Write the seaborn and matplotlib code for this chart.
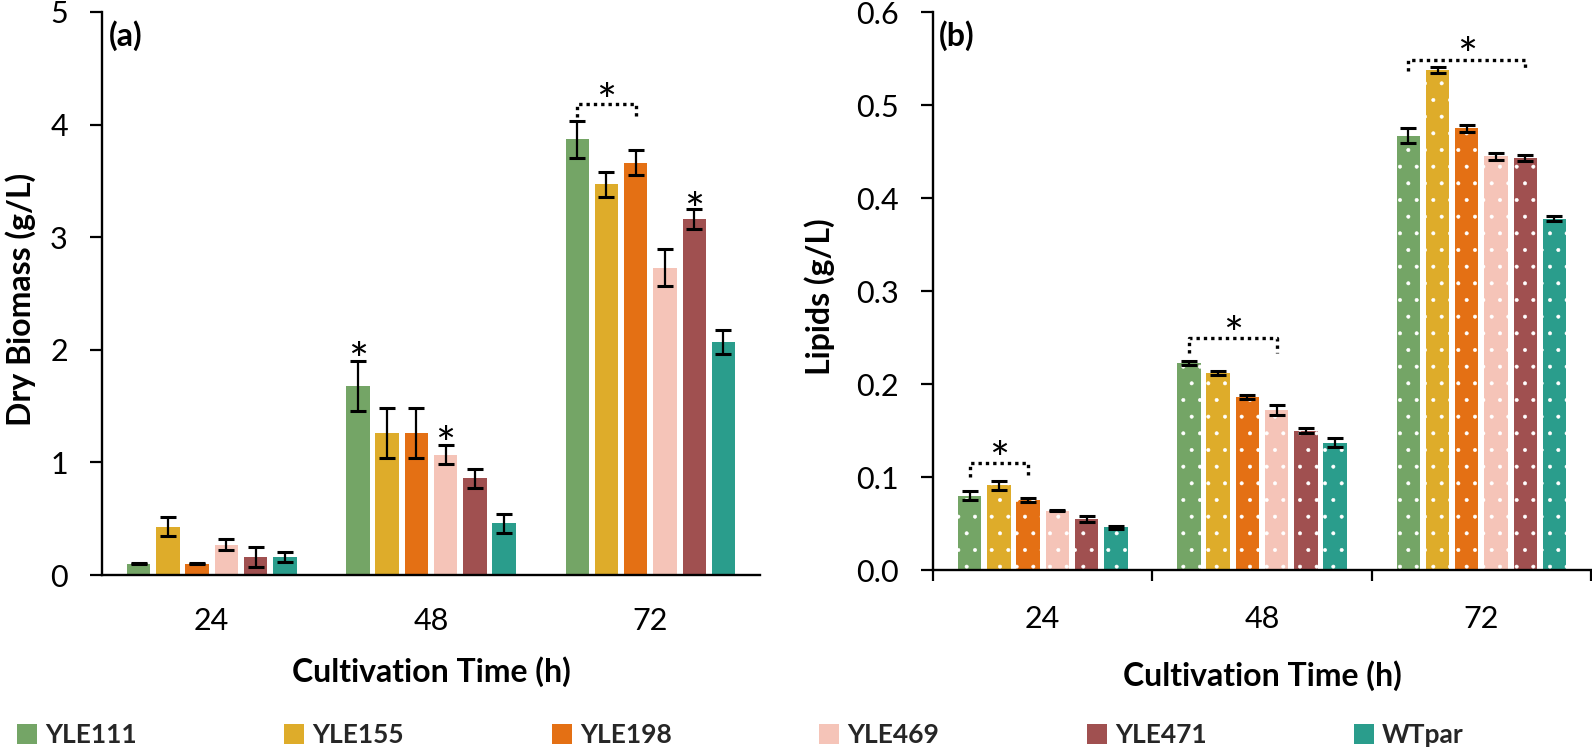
import numpy as np
import pandas as pd
import matplotlib
matplotlib.use("Agg")
import matplotlib.pyplot as plt
import seaborn as sns
from matplotlib.textpath import TextPath
from matplotlib.font_manager import FontProperties

# ---------------- data ----------------
strains = ["YLE111", "YLE155", "YLE198", "YLE469", "YLE471", "WTpar"]
times = ["24", "48", "72"]
colors = ["#74A566", "#DEAC2A", "#E47014", "#F5C4B8", "#A05050", "#2A9D8C"]

biomass_24 = [0.10, 0.43, 0.10, 0.27, 0.16, 0.16]
biomass_48 = [1.68, 1.26, 1.26, 1.07, 0.86, 0.46]
biomass_72 = [3.87, 3.47, 3.66, 2.73, 3.16, 2.07]
biomass_err_24 = [0.005, 0.085, 0.005, 0.05, 0.085, 0.045]
biomass_err_48 = [0.22, 0.22, 0.22, 0.085, 0.085, 0.085]
biomass_err_72 = [0.165, 0.11, 0.11, 0.165, 0.087, 0.107]

lipids_24 = [0.080, 0.091, 0.075, 0.064, 0.055, 0.046]
lipids_48 = [0.223, 0.212, 0.186, 0.172, 0.150, 0.137]
lipids_72 = [0.467, 0.538, 0.475, 0.445, 0.443, 0.378]
lipids_err_24 = [0.005, 0.0045, 0.002, 0.001, 0.003, 0.0015]
lipids_err_48 = [0.002, 0.002, 0.002, 0.005, 0.0025, 0.0047]
lipids_err_72 = [0.008, 0.003, 0.004, 0.004, 0.003, 0.003]

biomass_ticks = [0, 1, 2, 3, 4, 5]
lipid_ticks = [0.0, 0.1, 0.2, 0.3, 0.4, 0.5, 0.6]

# significance marks: (group index, first bar, last bar, bracket top, bracket end, star y)
biomass_brackets = [(2, 0, 2, 4.183, 4.067, 4.316)]
biomass_single_stars = [(1, 0, 2.016), (1, 3, 1.27), (2, 4, 3.35)]
lipid_brackets = [(0, 0, 2, 0.115, 0.100, 0.132),
                  (1, 0, 3, 0.2495, 0.234, 0.2667),
                  (2, 0, 4, 0.549, 0.537, 0.567)]

# ---------------- style ----------------
sns.set_theme(style="white")
plt.rcParams["font.family"] = ["Lato", "DejaVu Sans"]
plt.rcParams["axes.edgecolor"] = "black"
plt.rcParams["hatch.linewidth"] = 0.4

fig = plt.figure(figsize=(15.92, 7.54), dpi=100)
ax_a = fig.add_axes([0.0641, 0.2374, 0.4133, 0.7467])
ax_b = fig.add_axes([0.5861, 0.2440, 0.4133, 0.7397])


def long_df(v24, v48, v72, e24, e48, e72):
    return pd.DataFrame({
        "time": np.repeat(times, len(strains)),
        "strain": strains * len(times),
        "value": v24 + v48 + v72,
        "err": e24 + e48 + e72,
    })


df_a = long_df(biomass_24, biomass_48, biomass_72,
               biomass_err_24, biomass_err_48, biomass_err_72)
df_b = long_df(lipids_24, lipids_48, lipids_72,
               lipids_err_24, lipids_err_48, lipids_err_72)

star_fs = 34
star_fp = FontProperties(family="Lato", size=star_fs)
tp = TextPath((0, 0), "*", size=star_fs, prop=star_fp)
ext = tp.get_extents()
star_dy = -(ext.y0 + ext.y1) / 2.0


def star(ax, x, y):
    ax.annotate("*", xy=(x, y), xytext=(0, star_dy), textcoords="offset points",
                ha="center", va="baseline", color="black",
                fontproperties=star_fp, annotation_clip=False)


def draw_panel(ax, df, hatch):
    sns.barplot(data=df, x="time", y="value", hue="strain", order=times,
                hue_order=strains, palette=colors, width=0.8, gap=0.2,
                errorbar=None, saturation=1, linewidth=0, ax=ax)
    for cont, s in zip(ax.containers, strains):
        sub = df[df["strain"] == s].set_index("time").loc[times]
        xs = [p.get_x() + p.get_width() / 2 for p in cont]
        ys = [p.get_height() for p in cont]
        if hatch:
            for p in cont:
                p.set_hatch(hatch)
                p.set_edgecolor("white")
                p.set_linewidth(0)
        ax.errorbar(xs, ys, yerr=sub["err"].values, fmt="none", ecolor="black",
                    elinewidth=1.6, capsize=5.8, capthick=2.2, zorder=4)
    ax.set_xlim(-0.5, 2.5)
    for side in ("top", "right"):
        ax.spines[side].set_visible(False)
    for side in ("left", "bottom"):
        ax.spines[side].set_linewidth(1.7)
        ax.spines[side].set_color("black")
    ax.tick_params(axis="y", length=8.6, width=1.6, direction="out",
                   left=True, pad=16, labelsize=22, colors="black")
    ax.tick_params(axis="x", length=0, labelsize=22, colors="black")


def bar_center(ax, bar, group):
    p = ax.containers[bar].patches[group]
    return p.get_x() + p.get_width() / 2


def brackets(ax, spec):
    for g, i, j, ytop, yend, ystar in spec:
        x0, x1 = bar_center(ax, i, g), bar_center(ax, j, g)
        ax.plot([x0, x0, x1, x1], [yend, ytop, ytop, yend], color="black",
                lw=2.4, ls=(0, (1, 1.2)), solid_capstyle="butt", zorder=5,
                clip_on=False)
        star(ax, (x0 + x1) / 2, ystar)


# ---------------- panel (a) ----------------
draw_panel(ax_a, df_a, None)
ax_a.set_ylim(0, 5)
ax_a.set_yticks(biomass_ticks)
ax_a.set_yticklabels([str(t) for t in biomass_ticks])
ax_a.tick_params(axis="x", pad=23)
ax_a.set_xlabel("Cultivation Time (h)", fontsize=23, fontweight="bold", color="black")
ax_a.set_ylabel("Dry Biomass (g/L)", fontsize=23, fontweight="bold", color="black")
ax_a.xaxis.set_label_coords(0.5, -0.1439)
ax_a.yaxis.set_label_coords(-0.100, 0.49)
brackets(ax_a, biomass_brackets)
for g, b, y in biomass_single_stars:
    star(ax_a, bar_center(ax_a, b, g), y)
ax_a.text(0.0106, 0.986, "(a)", transform=ax_a.transAxes, ha="left", va="top",
          fontsize=23, fontweight="bold", color="black")

# ---------------- panel (b) ----------------
draw_panel(ax_b, df_b, ".")
ax_b.set_ylim(0, 0.6)
ax_b.set_yticks(lipid_ticks)
ax_b.set_yticklabels([f"{t:.1f}" for t in lipid_ticks])
ax_b.set_xticks([-0.5, 0.5, 1.5, 2.5], minor=True)
ax_b.tick_params(axis="x", which="minor", length=8, width=1.6, direction="out",
                 bottom=True, colors="black")
ax_b.tick_params(axis="x", which="major", pad=25)
ax_b.set_xlabel("Cultivation Time (h)", fontsize=23, fontweight="bold", color="black")
ax_b.set_ylabel("Lipids (g/L)", fontsize=23, fontweight="bold", color="black")
ax_b.xaxis.set_label_coords(0.5, -0.1614)
ax_b.yaxis.set_label_coords(-0.149, 0.49)
brackets(ax_b, lipid_brackets)
ax_b.text(0.009, 0.986, "(b)", transform=ax_b.transAxes, ha="left", va="top",
          fontsize=23, fontweight="bold", color="black")

# ---------------- legend ----------------
handles, labels = ax_a.get_legend_handles_labels()
for ax in (ax_a, ax_b):
    if ax.get_legend() is not None:
        ax.get_legend().remove()
fig.legend(handles, labels, loc="center left",
           bbox_to_anchor=(17 / 1592, 19 / 754), ncol=6, frameon=False,
           prop=FontProperties(family="Lato", weight="bold", size=19),
           handlelength=0.76, handleheight=0.76, handletextpad=0.3,
           columnspacing=5.6, borderpad=0, borderaxespad=0)

fig.savefig("out.png", dpi=100)
